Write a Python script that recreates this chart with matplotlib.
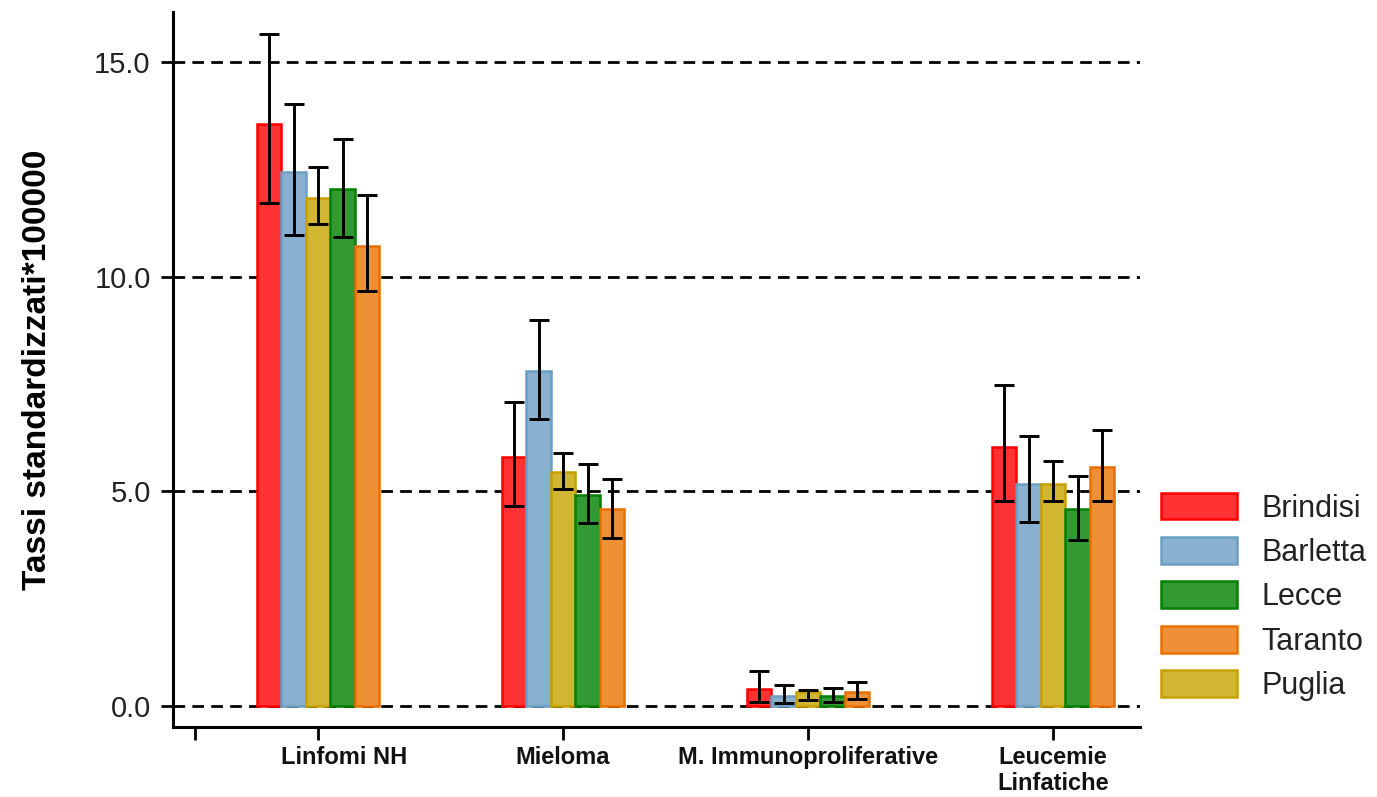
import matplotlib.pyplot as plt
import numpy as np
from matplotlib.transforms import ScaledTranslation

plt.rcParams['font.family'] = ['Liberation Sans', 'DejaVu Sans']

categories = ["Linfomi NH", "Mieloma", "M. Immunoproliferative", "Leucemie\nLinfatiche"]

# values and 95% CI (low, high) per area
brindisi = [13.57, 5.79, 0.39, 6.04]
brindisi_lo = [11.71, 4.65, 0.09, 4.78]
brindisi_hi = [15.65, 7.09, 0.82, 7.47]

barletta = [12.45, 7.81, 0.24, 5.18]
barletta_lo = [10.98, 6.69, 0.06, 4.29]
barletta_hi = [14.02, 8.99, 0.50, 6.29]

puglia = [11.84, 5.45, 0.32, 5.18]
puglia_lo = [11.24, 5.05, 0.14, 4.78]
puglia_hi = [12.56, 5.89, 0.37, 5.71]

lecce = [12.05, 4.92, 0.24, 4.60]
lecce_lo = [10.92, 4.26, 0.09, 3.87]
lecce_hi = [13.22, 5.63, 0.43, 5.37]

taranto = [10.72, 4.59, 0.32, 5.57]
taranto_lo = [9.66, 3.92, 0.16, 4.78]
taranto_hi = [11.90, 5.30, 0.56, 6.42]

# drawing order inside each group (left to right)
series = [
    ("Brindisi", brindisi, brindisi_lo, brindisi_hi, "#FF3333", "#FF0000"),
    ("Barletta", barletta, barletta_lo, barletta_hi, "#8AB1CF", "#6A9FC4"),
    ("Puglia", puglia, puglia_lo, puglia_hi, "#D0B631", "#C8A000"),
    ("Lecce", lecce, lecce_lo, lecce_hi, "#339933", "#008000"),
    ("Taranto", taranto, taranto_lo, taranto_hi, "#EE9035", "#E87000"),
]
legend_order = ["Brindisi", "Barletta", "Lecce", "Taranto", "Puglia"]

fig = plt.figure(figsize=(13.77, 7.97), dpi=100)
ax = fig.add_axes([0.1256, 0.0878, 0.7024, 0.8972])

x = np.arange(len(categories))
width = 0.1
handles = {}
for i, (name, vals, lo, hi, face, edge) in enumerate(series):
    pos = x + (i - 2) * width
    vals = np.array(vals)
    yerr = np.vstack([vals - np.array(lo), np.array(hi) - vals])
    b = ax.bar(pos, vals, width, color=face, edgecolor=edge, linewidth=1.8, zorder=2)
    ax.errorbar(pos, vals, yerr=yerr, fmt='none', ecolor='black', elinewidth=2.1,
                capsize=7, capthick=2.1, zorder=3)
    handles[name] = b

# dashed horizontal reference lines
for yv in [0, 5, 10, 15]:
    ax.axhline(yv, color='black', linewidth=2, dashes=(4.2, 2.6), zorder=1)

ax.set_xlim(-0.592, 3.355)
ax.set_ylim(-0.49, 16.17)
ax.set_yticks([0, 5, 10, 15])
ax.set_yticklabels([f"{v:.1f}" for v in [0, 5, 10, 15]], fontsize=21, color='#222222')
ax.set_xticks(np.concatenate([[-0.5], x]))
ax.set_xticklabels([""] + categories, fontsize=17, fontweight='bold', color='#111111',
                   linespacing=1.12)
ax.tick_params(axis='both', direction='out', length=9, width=2)
ax.tick_params(axis='x', pad=5)
ax.tick_params(axis='y', pad=7)

for s in ['top', 'right']:
    ax.spines[s].set_visible(False)
for s in ['left', 'bottom']:
    ax.spines[s].set_linewidth(2.2)

# "Linfomi NH" sits slightly right of its tick in the reference
lbl = ax.get_xticklabels()[1]
lbl.set_transform(lbl.get_transform() + ScaledTranslation(0.26, 0, fig.dpi_scale_trans))

ax.set_ylabel("Tassi standardizzati*100000", fontsize=24, fontweight='bold', labelpad=30)

ax.legend([handles[n] for n in legend_order], legend_order, loc='upper left',
          bbox_to_anchor=(0.843, 0.382), bbox_transform=fig.transFigure,
          frameon=False, fontsize=22, handlelength=2.5, handleheight=0.98,
          labelspacing=0.44, handletextpad=0.78, borderpad=0, borderaxespad=0,
          labelcolor='#222222')

fig.savefig("out.png", dpi=100)
